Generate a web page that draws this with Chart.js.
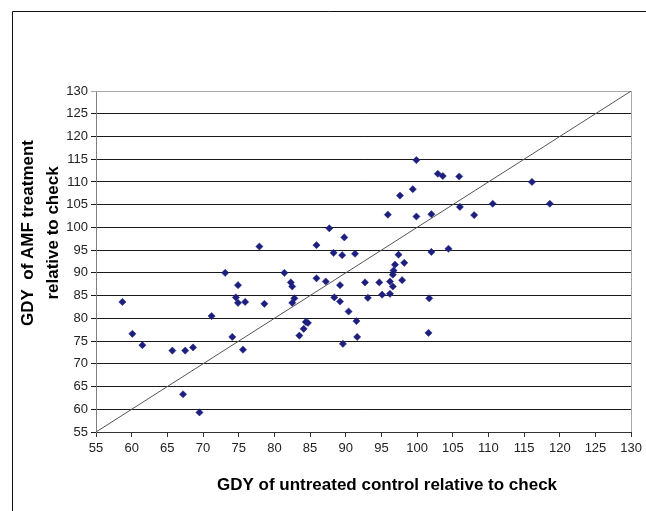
<!DOCTYPE html>
<html>
<head>
<meta charset="utf-8">
<script src="https://cdn.jsdelivr.net/npm/chart.js@4.4.1/dist/chart.umd.min.js"></script>
<style>
  html, body { margin: 0; padding: 0; background: #fff; }
  #wrap { width: 646px; height: 511px; }
</style>
</head>
<body>
<div id="wrap"><canvas id="grafico"></canvas></div>
<script>
// GDY of untreated control (x) vs GDY of AMF treatment (y), relative to check
const controlGdy = [58.7, 60.1, 61.5, 65.7, 67.5, 68.6, 67.2, 69.5, 71.2, 73.1,
  74.1, 74.6, 74.9, 74.9, 75.6, 75.9, 77.9, 78.6, 81.4, 82.3,
  82.5, 82.8, 82.5, 83.5, 84.1, 84.4, 84.7, 85.9, 85.9, 87.2,
  87.7, 88.3, 88.4, 89.2, 89.2, 89.5, 89.6, 89.8, 90.4, 91.3,
  91.5, 91.6, 92.7, 93.1, 94.7, 95.1, 95.9, 96.2, 96.2, 96.6,
  96.6, 96.7, 96.9, 97.4, 97.6, 97.9, 98.2, 99.4, 99.9, 99.9,
  101.6, 101.7, 102.0, 102.0, 102.9, 103.6, 104.4, 105.9, 106.0, 108.0,
  110.6, 116.1, 118.6];
const amfGdy = [83.6, 76.6, 74.1, 72.9, 72.9, 73.6, 63.3, 59.3, 80.5, 90.0,
  75.9, 84.6, 87.3, 83.4, 73.1, 83.6, 95.8, 83.2, 90.0, 87.9,
  87.0, 84.4, 83.4, 76.2, 77.7, 79.2, 79.0, 96.1, 88.8, 88.1,
  99.8, 94.4, 84.6, 87.3, 83.7, 93.9, 74.4, 97.8, 81.5, 94.2,
  79.4, 75.9, 87.9, 84.5, 87.9, 85.2, 102.8, 88.1, 85.4, 87.0,
  89.6, 90.5, 91.8, 94.0, 107.0, 88.4, 92.2, 108.4, 114.8, 102.4,
  76.8, 84.4, 94.6, 102.9, 111.8, 111.3, 95.3, 111.2, 104.5, 102.7,
  105.2, 110.0, 105.2];
const axisMin = 55;
const axisMax = 130;
const axisStep = 5;
const oneToOne = [55, 130];

const xTitle = 'GDY of untreated control relative to check';
const yTitle = ['GDY  of AMF treatment', 'relative to check'];

document.addEventListener('DOMContentLoaded', function() {
  const ctx = document.getElementById('grafico').getContext('2d');

  Chart.defaults.font.family = '"Liberation Sans", Arial, sans-serif';
  Chart.defaults.font.size = 13;
  Chart.defaults.color = '#222';

  const points = controlGdy.map((x, i) => ({ x: x, y: amfGdy[i] }));
  const diagonal = oneToOne.map(v => ({ x: v, y: v }));

  const moldura = {
    id: 'moldura',
    beforeDraw(chart) {
      const c = chart.ctx;
      c.save();
      c.fillStyle = '#fff';
      c.fillRect(0, 0, chart.width, chart.height);
      c.strokeStyle = '#111';
      c.lineWidth = 1;
      c.beginPath();
      c.moveTo(12.5, chart.height);
      c.lineTo(12.5, 11.5);
      c.lineTo(chart.width, 11.5);
      c.stroke();
      c.restore();
    },
    beforeDatasetsDraw(chart) {
      const a = chart.chartArea;
      const c = chart.ctx;
      c.save();
      c.strokeStyle = '#a8a8a8';
      c.lineWidth = 1;
      c.beginPath();
      c.moveTo(a.left, Math.round(a.top) + 0.5);
      c.lineTo(Math.round(a.right) + 0.5, Math.round(a.top) + 0.5);
      c.lineTo(Math.round(a.right) + 0.5, a.bottom);
      c.stroke();
      c.restore();
    },
    afterDraw(chart) {
      const a = chart.chartArea;
      const c = chart.ctx;
      c.save();
      c.fillStyle = '#000';
      c.font = 'bold 17px "Liberation Sans", Arial, sans-serif';
      c.textAlign = 'center';
      c.textBaseline = 'middle';
      c.fillText(xTitle, a.left + 291, a.bottom + 53);
      c.translate(a.left - 56, 233);
      c.rotate(-Math.PI / 2);
      c.fillText(yTitle[0], 0, -12);
      c.fillText(yTitle[1], 0, 13);
      c.restore();
    }
  };

  const config = {
    type: 'scatter',
    data: {
      datasets: [{
        type: 'line',
        data: diagonal,
        borderColor: '#555',
        borderWidth: 1,
        pointRadius: 0,
        fill: false
      }, {
        data: points,
        pointStyle: 'rectRot',
        pointRadius: 3.6,
        backgroundColor: '#1d1f7e',
        borderColor: '#1d1f7e',
        borderWidth: 0.5
      }]
    },
    options: {
      responsive: true,
      maintainAspectRatio: false,
      animation: false,
      layout: { padding: { left: 0, top: 91, right: 14, bottom: 0 } },
      plugins: {
        legend: { display: false },
        tooltip: { enabled: false }
      },
      scales: {
        x: {
          type: 'linear',
          min: axisMin,
          max: axisMax,
          afterFit: s => { s.height = 79; },
          ticks: { stepSize: axisStep, padding: 4, maxRotation: 0, autoSkip: false },
          grid: { drawOnChartArea: false, drawTicks: true, tickLength: 5, color: '#333' },
          border: { color: '#333', width: 1 }
        },
        y: {
          type: 'linear',
          min: axisMin,
          max: axisMax,
          afterFit: s => { s.width = 96; },
          ticks: { stepSize: axisStep, padding: 3, autoSkip: false },
          grid: {
            tickLength: 5,
            color: c => c.tick && c.tick.value === axisMax ? '#a8a8a8' : '#1a1a1a',
            lineWidth: 1
          },
          border: { color: '#808080', width: 1 }
        }
      }
    },
    plugins: [moldura]
  };

  new Chart(ctx, config);
});
</script>
</body>
</html>
